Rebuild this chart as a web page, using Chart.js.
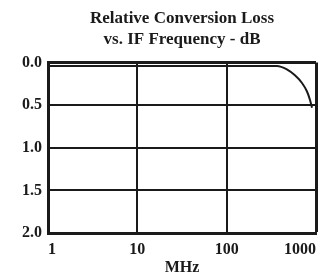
<!DOCTYPE html>
<html lang="en">
<head>
    <meta charset="UTF-8">
    <title>Relative Conversion Loss</title>
    <script src="https://cdn.jsdelivr.net/npm/chart.js"></script>
    <style>
        html, body { margin: 0; padding: 0; background: #fff; }
        #wrap { width: 324px; height: 277px; }
    </style>
</head>
<body>
    <div id="wrap"><canvas id="lossChart"></canvas></div>

    <script>
        // IF frequency in MHz and relative conversion loss in dB
        const freqMHz = [1, 10, 100, 365, 472, 581, 697, 793, 857, 902];
        const lossDb = [0.04, 0.04, 0.04, 0.04, 0.08, 0.15, 0.24, 0.34, 0.44, 0.53];
        const xTicks = [1, 10, 100, 1000];
        const yTicks = [0, 0.5, 1.0, 1.5, 2.0];

        const ink = '#1a1a1a';
        const serif = 'Liberation Serif';

        const points = freqMHz.map((f, i) => ({ x: f, y: lossDb[i] }));

        new Chart(document.getElementById('lossChart'), {
            type: 'line',
            data: {
                datasets: [{
                    data: points,
                    borderColor: ink,
                    borderWidth: 2,
                    pointRadius: 0,
                    cubicInterpolationMode: 'monotone',
                    fill: false
                }]
            },
            options: {
                responsive: true,
                maintainAspectRatio: false,
                animation: false,
                layout: { padding: { left: 0, right: 8, top: 0, bottom: 0 } },
                plugins: {
                    legend: { display: false },
                    tooltip: { enabled: false },
                    title: {
                        display: true,
                        fullSize: false, // centre over the plot, not the whole canvas
                        text: ['Relative Conversion Loss', 'vs. IF Frequency - dB'],
                        color: ink,
                        font: { family: serif, size: 17, weight: 'bold', lineHeight: 1.25 },
                        padding: { top: 8, bottom: 12 }
                    }
                },
                scales: {
                    x: {
                        type: 'logarithmic',
                        min: 1,
                        max: 1000,
                        afterBuildTicks: s => { s.ticks = xTicks.map(v => ({ value: v })); },
                        afterFit: s => { s.height = 44; s.paddingLeft = 0; s.paddingRight = 0; },
                        ticks: {
                            align: 'inner',
                            color: ink,
                            padding: 7,
                            autoSkip: false,
                            maxRotation: 0,
                            font: { family: serif, size: 16, weight: 'bold' },
                            callback: v => String(v)
                        },
                        grid: {
                            color: ink,
                            lineWidth: c => (c.index === xTicks.length - 1 ? 3 : 2),
                            drawTicks: false
                        },
                        border: { color: ink, width: 3 },
                        title: {
                            display: true,
                            text: 'MHz',
                            color: ink,
                            font: { family: serif, size: 16, weight: 'bold' },
                            padding: { top: 0, bottom: 0 }
                        }
                    },
                    y: {
                        reverse: true,
                        min: 0,
                        max: 2,
                        afterBuildTicks: s => { s.ticks = yTicks.map(v => ({ value: v })); },
                        afterFit: s => { s.width = 48; },
                        ticks: {
                            color: ink,
                            padding: 6,
                            font: { family: serif, size: 16, weight: 'bold' },
                            callback: v => Number(v).toFixed(1)
                        },
                        grid: {
                            color: ink,
                            lineWidth: c => (c.index === 0 ? 3 : 2),
                            drawTicks: false
                        },
                        border: { color: ink, width: 3 }
                    }
                }
            }
        });
    </script>
</body>
</html>
